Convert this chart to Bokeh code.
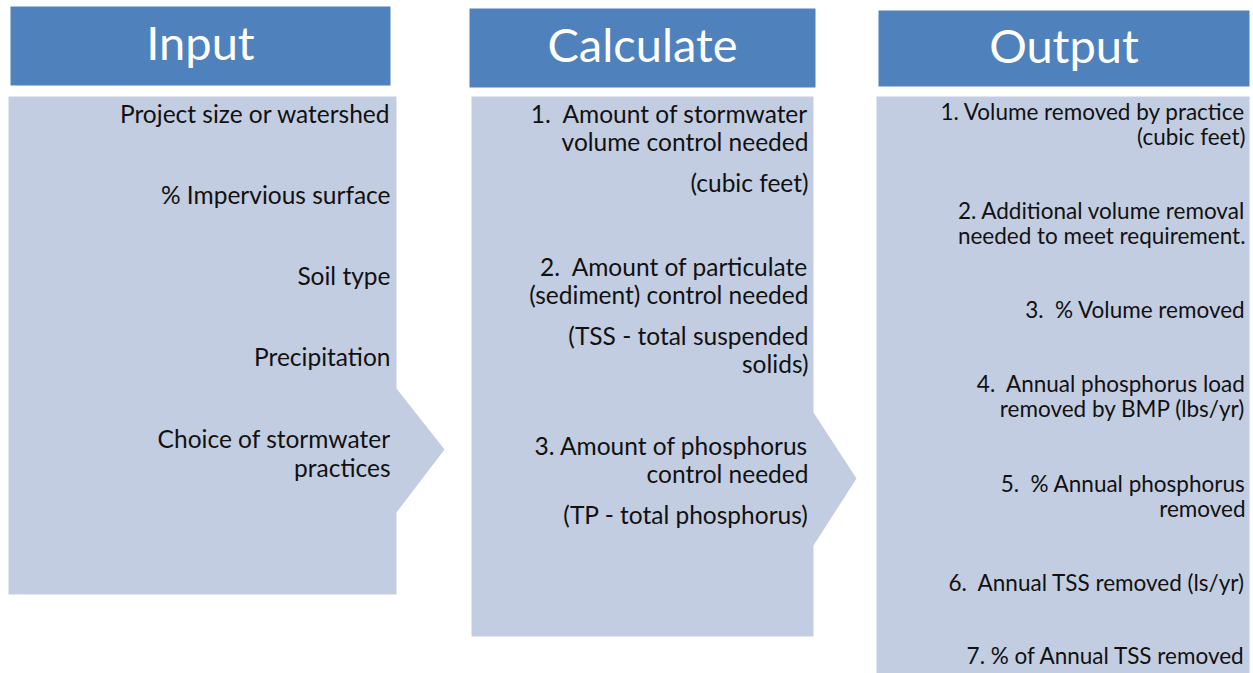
from bokeh.plotting import figure
from bokeh.models import Range1d
from bokeh.core.properties import value
from bokeh.embed import file_html
from bokeh.resources import INLINE

FONT = "Lato"
HEAD_COLOR = "#4F81BD"
BODY_COLOR = "#C3CDE1"
NB = "\u00a0"

# Column headers
headers = ["Input", "Calculate", "Output"]
header_left = [10, 469, 878]
header_right = [390, 815, 1249]
header_top = [6, 8, 10]
header_bottom = [85, 87, 86]
header_text_y = [41, 43, 44]

# Body shapes (chevron panels)
input_xs = [8, 396, 396, 444, 396, 396, 8]
input_ys = [96, 96, 388, 449, 512, 594, 594]
calc_xs = [471, 813, 813, 856, 813, 813, 471]
calc_ys = [96, 96, 412, 478, 545, 636, 636]
out_xs = [876, 1249, 1249, 876]
out_ys = [96, 96, 680, 680]

# Texts
input_lines = ["Project size or watershed", "% Impervious surface", "Soil type",
               "Precipitation", "Choice of stormwater", "practices"]
input_base = [113, 194, 275, 356, 438, 467]

calc_lines = ["1." + NB + " Amount of stormwater", "volume control needed", "(cubic feet)",
              "2." + NB + " Amount of particulate", "(sediment) control needed",
              "(TSS - total suspended", "solids)",
              "3. Amount of phosphorus", "control needed", "(TP - total phosphorus)"]
calc_base = [113, 141, 182, 266, 294, 335, 363, 445, 473, 514]

out_lines = ["1. Volume removed by practice", "(cubic feet)",
             "2. Additional volume removal", "needed to meet requirement.",
             "3." + NB + " % Volume removed",
             "4." + NB + " Annual phosphorus load", "removed by BMP (lbs/yr)",
             "5." + NB + " % Annual phosphorus", "removed",
             "6." + NB + " Annual TSS removed (ls/yr)",
             "7. % of Annual TSS removed"]
out_base = [111, 136, 210, 235, 309, 383, 408, 483, 508, 582, 655]

p = figure(width=1253, height=673, output_backend="svg", toolbar_location=None,
           x_range=Range1d(0, 1253), y_range=Range1d(673, 0),
           min_border=0, x_axis_type=None, y_axis_type=None)
p.outline_line_color = None
p.grid.visible = False
p.background_fill_color = "white"
p.border_fill_color = "white"

p.patches(xs=[input_xs, calc_xs, out_xs], ys=[input_ys, calc_ys, out_ys],
          fill_color=BODY_COLOR, line_color=None)

p.quad(left=header_left, right=header_right, top=header_top, bottom=header_bottom,
       fill_color=HEAD_COLOR, line_color=None)

hx = [(l + r) / 2 for l, r in zip(header_left, header_right)]
p.text(x=hx, y=header_text_y, text=headers, text_align="center",
       text_baseline="alphabetic", text_color="white",
       text_font=value(FONT), text_font_size="47px")

p.text(x=[390] * len(input_lines), y=input_base, text=input_lines,
       text_align="right", text_baseline="alphabetic", text_color="#111111",
       text_font=value(FONT), text_font_size="24.5px")
p.text(x=[808] * len(calc_lines), y=calc_base, text=calc_lines,
       text_align="right", text_baseline="alphabetic", text_color="#111111",
       text_font=value(FONT), text_font_size="24.5px")
p.text(x=[1245] * len(out_lines), y=out_base, text=out_lines,
       text_align="right", text_baseline="alphabetic", text_color="#111111",
       text_font=value(FONT), text_font_size="22.5px")

open("out.html", "w").write(file_html(p, INLINE))
